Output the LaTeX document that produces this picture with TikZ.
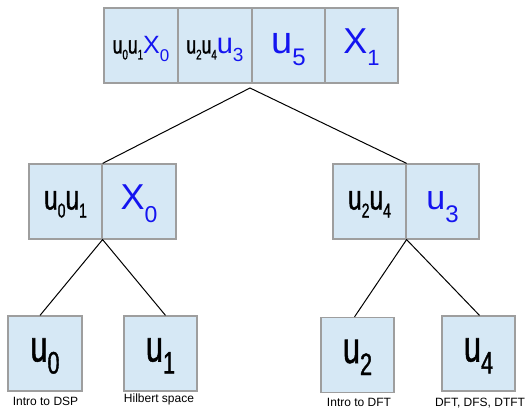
\documentclass[tikz,border=0pt]{standalone}
\usepackage{fontspec}
\setmainfont{Liberation Sans}
\newfontfamily\narrowsf[FakeStretch=0.7,FakeBold=1.2]{Liberation Sans}
\newfontfamily\plainsf{Liberation Sans}
\usetikzlibrary{calc}
\definecolor{cellfill}{HTML}{D6E8F5}
\definecolor{cellline}{HTML}{9E9E9E}
\definecolor{ublue}{HTML}{1414F0}
% base letter followed by a lowered index: size, index drop, index size, letter, index
\newcommand\idx[5]{{\fontsize{#1pt}{#1pt}\selectfont #4\raisebox{-#2pt}{\fontsize{#3pt}{#3pt}\selectfont #5}}}
\newcommand\blk[5]{{\narrowsf\idx{#1}{#2}{#3}{#4}{#5}}}
\newcommand\blu[5]{{\plainsf\color{ublue}\idx{#1}{#2}{#3}{#4}{#5}}}
\tikzset{
  cell/.style={draw=cellline, line width=1.2pt, fill=cellfill, inner sep=0pt,
    minimum height=75pt, text height=24pt, text depth=8pt},
  edge/.style={draw=black, line width=1pt},
  caption/.style={anchor=base, inner sep=0pt, font=\fontsize{12pt}{12pt}\selectfont}
}
\begin{document}
\begin{tikzpicture}[x=1pt,y=-1pt]
\useasboundingbox (0,0) rectangle (532,409);

% root row
\node[cell, minimum width=74pt] (r1) at (141,45.5)
  {\blk{25}{6}{14}{u}{0}\blk{25}{6}{14}{u}{1}\blu{25}{8}{17}{X}{0}};
\node[cell, minimum width=74pt] (r2) at (215,45.5)
  {\blk{25}{6}{14}{u}{2}\blk{25}{6}{14}{u}{4}\blu{29}{8}{19}{u}{3}};
\node[cell, minimum width=73pt] (r3) at (288.5,45.5) {\blu{38}{12}{24}{u}{5}};
\node[cell, minimum width=73pt] (r4) at (361.5,45.5) {\blu{36}{12}{22}{X}{1}};
\coordinate (apex) at (250,88);

% second level
\node[cell, minimum width=73pt] (a1) at (65.5,201.5)
  {\blk{35}{8}{20}{u}{0}\blk{35}{8}{20}{u}{1}};
\node[cell, minimum width=74pt] (a2) at (139,201.5) {\blu{36}{13}{23}{X}{0}};
\node[cell, minimum width=73pt] (b1) at (369.5,201.5)
  {\blk{35}{8}{20}{u}{2}\blk{35}{8}{20}{u}{4}};
\node[cell, minimum width=73pt] (b2) at (442.5,201.5) {\blu{34}{13}{24}{u}{3}};

% leaves
\node[cell, minimum width=74pt] (l0) at (45,353.5) {\blk{44}{12}{31}{u}{0}};
\node[cell, minimum width=73pt] (l1) at (160.5,353.5) {\blk{44}{12}{31}{u}{1}};
\node[cell, minimum width=73pt] (l2) at (357.5,355) {\blk{44}{12}{31}{u}{2}};
\node[cell, minimum width=73pt] (l4) at (478.5,353.5) {\blk{44}{12}{31}{u}{4}};

% captions under the leaves
\node[caption] (c0) at (45.5,405) {Intro to DSP};
\node[caption] (c1) at (159,402) {Hilbert space};
\node[caption] (c2) at (359,406.5) {Intro to DFT};
\node[caption] (c4) at (480,406.5) {DFT, DFS, DTFT};

% connectors
\draw[edge] (a1.north east) -- (apex) -- (b1.north east);
\draw[edge] ($(l0.north)+(-5,0)$) -- (a1.south east) -- ($(l1.north)+(5,0)$);
\draw[edge] ($(l2.north)+(-3,0)$) -- (b1.south east) -- ($(l4.north)+(1,0)$);
\end{tikzpicture}
\end{document}
